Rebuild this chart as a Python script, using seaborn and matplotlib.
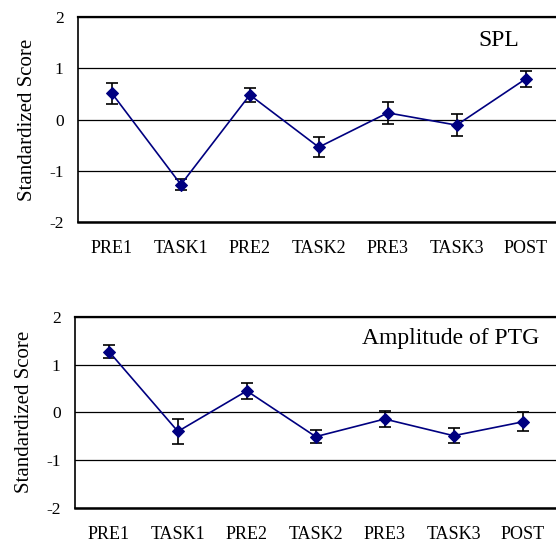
import pandas as pd
import seaborn as sns
import matplotlib.pyplot as plt

STAGES = ["PRE1", "TASK1", "PRE2", "TASK2", "PRE3", "TASK3", "POST"]

SPL_MEAN = [0.51, -1.27, 0.48, -0.54, 0.13, -0.11, 0.79]
SPL_ERR = [0.20, 0.105, 0.135, 0.19, 0.215, 0.22, 0.16]

PTG_MEAN = [1.275, -0.40, 0.45, -0.51, -0.14, -0.49, -0.20]
PTG_ERR = [0.13, 0.26, 0.17, 0.13, 0.17, 0.16, 0.20]

Y_TICKS = [-2, -1, 0, 1, 2]

sns.set_theme(style="white")
plt.rcParams['font.family'] = ['Liberation Serif', 'DejaVu Serif']

NAVY = '#000080'
W, H = 556, 543


def draw_panel(ax, means, errs, title):
    df = pd.DataFrame({'x': range(len(STAGES)), 'score': means})
    ax.errorbar(df['x'], df['score'], yerr=errs, fmt='none', ecolor='black',
                elinewidth=1.2, capsize=4, capthick=1.2, zorder=2)
    sns.lineplot(data=df, x='x', y='score', ax=ax, color=NAVY, marker='D',
                 markersize=6.5, markeredgecolor=NAVY, linewidth=1.2, zorder=3)

    ax.set_xlim(-0.5, 6.5)
    ax.set_ylim(-2, 2)
    ax.set_xticks(range(len(STAGES)))
    ax.set_xticklabels(STAGES)
    ax.set_yticks(Y_TICKS)
    ax.set_yticklabels([str(t) for t in Y_TICKS])
    ax.tick_params(axis='x', length=0, pad=13, labelsize=13, colors='black')
    ax.tick_params(axis='y', length=0, pad=10, labelsize=12.5, colors='black')

    ax.yaxis.grid(True, color='black', linewidth=0.9)
    ax.xaxis.grid(False)
    ax.set_axisbelow(True)

    ax.spines['right'].set_visible(False)
    for side in ['left', 'top', 'bottom']:
        ax.spines[side].set_color('black')
    ax.spines['left'].set_linewidth(1.2)
    ax.spines['top'].set_linewidth(1.6)
    ax.spines['bottom'].set_linewidth(1.8)

    ax.set_xlabel("")
    ax.set_ylabel("Standardized Score", fontsize=15, color='black')
    ax.yaxis.set_label_coords(-0.083, 0.5)

    ax.text(0.0, 0.86, title, transform=ax.transAxes, fontsize=17,
            ha='right', va='baseline', color='black')


fig = plt.figure(figsize=(W / 100, H / 100), dpi=100)

# axes placed in pixel terms of the reference
ax1 = fig.add_axes([77.5 / W, (H - 222) / H, 482.5 / W, 205 / H])
ax2 = fig.add_axes([74.5 / W, (H - 507.7) / H, 482.5 / W, 190.7 / H])

draw_panel(ax1, SPL_MEAN, SPL_ERR, "SPL")
ax1.texts[-1].set_x((519 - 77.5) / 482.5)
draw_panel(ax2, PTG_MEAN, PTG_ERR, "Amplitude of PTG")
ax2.texts[-1].set_x((539 - 74.5) / 482.5)

fig.savefig("out.png", dpi=100)
